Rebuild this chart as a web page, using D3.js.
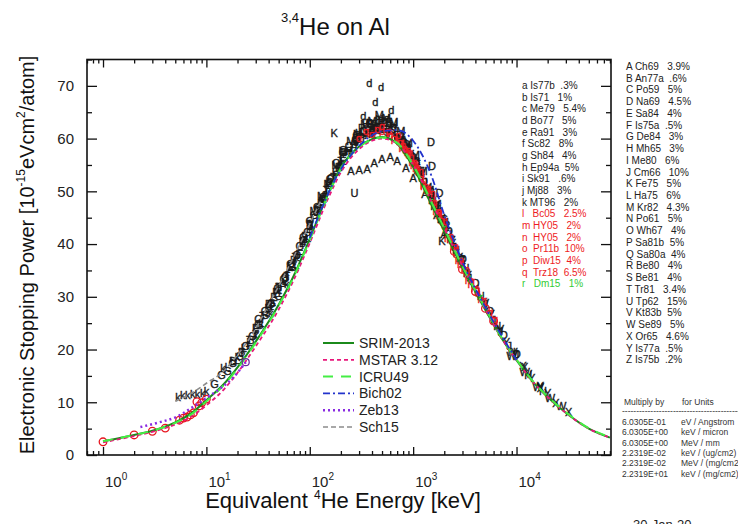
<!DOCTYPE html>
<html><head><meta charset="utf-8">
<script src="https://cdn.jsdelivr.net/npm/d3@7"></script>
<style>
body{margin:0;background:#fff;}
svg{font-family:Arial,"Liberation Sans",sans-serif;}
.pre{white-space:pre;}
</style></head><body>
<svg id="chart" width="738" height="524"></svg>
<script>
// ---------------- data ----------------
const xTickValues = [1, 10, 100, 1000, 10000];
const xTickExponents = ["0", "1", "2", "3", "4"];
const yTickValues = [0, 10, 20, 30, 40, 50, 60, 70];

// curves [E keV, S]
const srim2013 = [[1,2.6],[2,3.8],[3,4.6],[5,6.2],[7,7.8],[10,10.4],[15,13.6],[20,16.6],[30,21.5],[50,28.5],[70,34],[100,41],[150,49.5],[200,54.5],[300,58.5],[400,59.9],[500,60.3],[700,59],[1000,54.6],[1500,47.5],[2000,42.5],[3000,35.5],[5000,27.5],[7000,22.5],[10000,18],[15000,13.5],[20000,11],[30000,8],[50000,5],[80000,3.3]];
const mstar312 = [[1,2.4],[2,3.6],[3,4.4],[5,5.8],[7,7.2],[10,9.4],[15,12.6],[20,15.6],[30,20.6],[50,27.6],[70,33.2],[100,40.2],[150,48.6],[200,53.6],[300,58],[400,59.6],[500,60],[700,59],[1000,55],[1500,48],[2000,43],[3000,35.8],[5000,27.6],[7000,22.5],[10000,18],[15000,13.5],[20000,11],[30000,8],[50000,5],[80000,3.3]];
const icru49 = [[1,2.6],[2,3.8],[3,4.6],[5,6.1],[7,7.6],[10,10.2],[15,13.4],[20,16.4],[30,21.3],[50,28.3],[70,33.8],[100,40.8],[150,49.2],[200,54.3],[300,58.4],[400,59.8],[500,60.2],[700,59.2],[1000,55],[1500,48],[2000,43],[3000,35.8],[5000,27.8],[7000,22.6],[10000,18.1],[15000,13.6],[20000,11.1],[30000,8.1],[50000,5.1],[80000,3.4]];
const bich02 = [[100,41.2],[200,54.2],[300,58.6],[500,61.4],[700,61.6],[1000,59.6],[1500,53],[2000,45.5],[3000,36.6],[5000,28],[10000,18]];
const zeb13 = [[2.3,5.3],[3.5,6.2],[5.1,7.2],[7,8.8],[10,10.8],[14,12.8],[18,14.6],[24,17.6]];
const sch15 = [[5,10.2],[7,11.6],[10,13.6],[14.5,15.8],[20,19],[28,23],[40,28.5],[60,35],[90,42],[130,48.5]];
const zebPoint = [[24,17.6]];

// experimental data, black letters
const dataA = [[250,53.8],[300,54.0],[360,54.3],[420,55.4],[500,56.2],[600,56.5],[700,55.8],[850,54.5],[1000,52.5],[1300,49.5],[1700,45.5],[2000,42.0]];
const dataB = [[18,17.8],[22,19.6],[27,21.9],[33,24.6],[40,27.8],[48,30.8],[58,33.5],[70,36.9],[85,40.2],[100,43.6]];
const dataC = [[120,46.9],[160,52.6],[210,56.4],[280,59.8],[370,61.6],[480,62.2],[620,61.7],[800,59.4],[1050,55.6],[1400,50.3],[1900,44.4]];
const dataD = [[1490,59.4],[1520,54.8],[1800,49.7],[1850,44.8]];
const dataE = [[30,24.1],[45,29.9],[65,35.8],[90,41.6],[130,48.2],[190,54.6],[270,58.9],[380,61.1],[520,61.9],[700,60.7]];
const dataF = [[80,38.1],[110,44.9],[150,50.6],[210,55.1],[300,59.6],[420,62.8],[580,63.1],[780,59.8],[1100,55.1],[1500,48.4],[2100,42.0],[2600,38.3]];
const dataG = [[12,13.4],[14,15.2],[16,15.9],[18,17.4],[21,18.7],[24,20.6],[28,22.6],[32,24.8],[37,26.6],[43,28.9],[50,30.1],[58,33.8],[68,35.7],[80,39.6],[95,42.3],[110,45.5],[130,47.9],[155,51.6],[180,53.9]];
const dataH = [[300,61.1],[350,62.9],[400,60.9],[470,63.8],[550,62.0],[650,62.8],[750,60.3],[870,58.8],[1000,56.4],[1200,53.4],[1400,50.6],[1650,47.5],[1900,44.9],[2200,41.9],[2600,38.8],[2900,36.9],[3300,34.5]];
const dataI = [[55,33.3],[75,38.2],[105,43.0],[145,49.8],[200,55.6],[280,58.4],[390,61.5],[560,60.8]];
const dataJ = [[380,62.1],[450,63.6],[550,63.0],[650,61.9],[780,60.4],[900,58.2],[1100,55.3],[1300,51.8],[1550,49.3],[1800,46.1],[2100,43.1],[2500,39.4],[3000,36.3],[3500,33.5],[4200,30.9],[5000,28.6],[6000,25.6],[7000,23.4],[8500,20.6],[10000,18.9]];
const dataK = [[172,61.1],[1900,40.6]];
const dataL = [[16,16.7],[18,17.9],[20,18.1],[23,20.3],[26,21.5],[30,23.8],[34,25.1],[39,27.9],[44,29.0],[50,31.9],[57,33.0],[65,35.9],[74,36.1],[85,40.6],[96,41.1]];
const dataM = [[110,46.2],[130,49.2],[150,51.3],[180,55.0],[210,57.6],[250,59.5],[290,60.9],[340,62.8],[400,63.4],[470,64.4],[550,63.9],[650,63.1],[760,61.4],[900,59.2],[1050,56.8],[1250,53.8],[1450,50.3],[1700,47.6],[2000,44.2]];
const dataN = [[1100,54.1],[1600,47.3],[2300,40.9],[3200,35.4],[4500,30.1],[6500,24.5],[9000,19.6],[13000,15.1],[18000,12.2]];
const dataO = [[2200,42.4],[3000,37.1],[4000,32.6],[5500,27.4],[7500,22.8],[10000,19.1]];
const dataP = [[40,28.6],[47,30.9],[55,32.1],[64,35.0],[75,37.4],[87,40.6],[100,42.9],[117,46.4],[135,48.6],[157,51.7],[180,53.1],[210,56.8],[240,57.7],[280,60.1],[320,60.3],[375,62.9],[430,61.9],[500,63.4],[580,62.3],[700,60.1]];
const dataQ = [[32,25.8],[37,27.4],[42,28.6],[49,31.6],[56,33.4],[65,36.3],[75,37.9],[87,41.3],[100,44.3],[118,47.1],[135,49.0],[157,52.4],[180,55.3],[210,57.4],[240,58.6],[285,60.7],[330,61.4],[390,62.7],[450,62.0]];
const dataR = [[320,62.1],[450,61.7],[620,61.0],[850,58.9],[1150,53.6],[1550,48.3],[2100,43.6],[2800,37.4]];
const dataS = [[210,57.9],[290,59.9],[400,61.3],[560,61.2],[780,59.1],[1080,55.7],[1500,49.8],[2000,44.7]];
const dataT = [[22,19.4],[26,21.8],[30,22.9],[35,26.3],[42,28.2],[50,31.8],[60,33.9],[72,37.6],[85,40.3],[100,43.9],[120,46.2],[145,50.2],[170,52.8],[200,55.8],[240,57.1],[280,59.6],[330,60.0]];
const dataU = [[270,49.7]];
const dataV = [[5000,28.9],[7000,23.9],[9500,19.2],[13000,15.4],[17000,12.9]];
const dataW = [[9000,18.7],[12000,15.7],[16000,12.9],[21000,10.8],[27000,9.2]];
const dataX = [[12000,16.6],[17000,12.8],[24000,9.8],[32000,8.2]];
const dataY = [[1200,53.3],[1400,50.8],[1700,46.6],[2000,43.4],[2400,40.2],[2800,37.5],[3400,34.2],[4000,31.5],[4800,29.0],[5700,26.7],[6800,23.6],[8000,21.5],[9500,19.5],[11500,16.9],[14000,14.6],[17000,13.0],[20000,11.7]];
const dataZ = [[420,61.6],[600,61.6],[850,58.1],[1200,53.9],[1700,47.2],[2400,40.8],[3000,36.9]];
const data_a = [[400,62.4],[700,60.4],[1000,56.9],[1500,49.3],[2000,43.9]];
const data_b = [[900,57.6],[1300,52.2],[1800,45.3],[2500,39.6]];
const data_c = [[60,34.6],[90,40.9],[130,48.7],[190,54.8],[270,60.2],[380,63.3],[520,63.6]];
const data_d = [[376,70.6],[490,69.8],[430,67.0],[615,65.5],[330,64.2],[560,63.9]];
const data_e = [[100,44.1],[140,49.6],[200,55.2],[280,59.3]];
const data_f = [[25,20.9],[35,25.8],[50,31.4],[70,36.6],[100,42.4]];
const data_g = [[500,63.4],[800,59.9],[1200,52.9],[1800,45.8]];
const data_h = [[300,60.6],[450,62.6],[650,62.4],[900,58.6]];
const data_i = [[600,62.8],[1000,57.0],[1600,47.8]];
const data_j = [[250,58.2],[350,61.1],[500,62.2]];
const data_k = [[5.3,11.0],[5.9,11.3],[6.6,11.3],[7.4,11.5],[8.2,11.6],[9.2,11.8],[10,12.1],[14.5,16.5],[20,18.6],[30,22.8],[42,27],[60,32.5]];
// red data
const data_l = [[700,59.5],[800,58.9],[900,57.1],[1000,56.2],[1100,54.3],[1250,52.8],[1400,49.9],[1600,48.1],[1800,45.4],[2000,44.3],[2300,40.7],[2600,39.1],[2900,36.3]];
const data_m = [[800,58.2],[900,57.4],[1000,55.6],[1150,53.8],[1300,51.1],[1500,49.6],[1700,46.3],[1950,44.6],[2200,41.2],[2500,39.7],[2800,37.0],[3200,35.2],[3500,33.1],[4000,31.6]];
const data_n = [[850,57.9],[1050,54.5],[1350,50.2],[1750,45.5],[2250,41.0],[2850,36.2],[3600,32.5],[4500,29.6]];
const data_o = [[1,2.5],[2,3.8],[3,4.5],[4,5.1],[5.5,6.6],[6,7.0],[6.5,7.2],[7,7.6],[7.5,8.0],[8.1,10.1],[8.5,9.3],[9,9.9],[10,10.6],[2500,38.6],[3000,35.2],[4000,31.0],[5000,27.8],[6000,25.4]];
const data_p = [[450,61.8],[500,61.4],[580,61.5],[650,60.2],[720,60.6],[800,58.7],[900,57.8],[1000,55.4],[1100,54.6],[1250,51.6]];
const data_q = [[300,60.2],[350,61.5],[400,60.8],[500,62.3],[600,60.6],[750,59.4],[900,56.9],[1050,55.1],[1200,52.6],[1400,50.7],[1600,48.0],[1800,46.0],[2000,43.5],[2300,41.5],[2600,38.2],[2900,36.8],[3300,34.3],[3700,33.0],[4200,30.8],[4800,29.3],[5500,27.1],[6200,25.7]];
// green data
const data_r = [[1500,48.1],[2000,43.0],[2700,37.7],[3500,33.6],[4500,30.0]];

const innerLegend = ["a Is77b  .3%","b Is71   1%","c Me79   5.4%","d Bo77   5%","e Ra91   3%","f Sc82   8%","g Sh84   4%","h Ep94a  5%","i Sk91   .6%","j Mj88   3%","k MT96   2%","l   Bc05   2.5%","m HY05   2%","n  HY05   2%","o  Pr11b  10%","p  Diw15  4%","q  Trz18  6.5%","r   Dm15   1%"];
const rightLegend = ["A Ch69   3.9%","B An77a  .6%","C Po59   5%","D Na69   4.5%","E Sa84   4%","F Is75a  .5%","G De84   3%","H Mh65   3%","I Me80   6%","J Cm66   10%","K Fe75   5%","L Ha75   6%","M Kr82   4.3%","N Po61   5%","O Wh67   4%","P Sa81b  5%","Q Sa80a  4%","R Be80   4%","S Be81   4%","T Tr81   3.4%","U Tp62   15%","V Kt83b  5%","W Se89   5%","X Or65   4.6%","Y Is77a  .5%","Z Is75b  .2%"];
const unitFactors = ["6.0305E-01","6.0305E+00","6.0305E+00","2.2319E-02","2.2319E-02","2.2319E+01"];
const unitNames = ["eV / Angstrom","keV / micron","MeV / mm","keV / (ug/cm2)","MeV / (mg/cm2)","keV / (mg/cm2)"];
const curveNames = ["SRIM-2013","MSTAR 3.12","ICRU49","Bich02","Zeb13","Sch15"];

// ---------------- drawing ----------------
const svg = d3.select("#chart");
const L = 87, R = 611, T = 59.5, B = 455;
const x = d3.scaleLog().domain([0.7, 82000]).range([L, R]);
const y = d3.scaleLinear().domain([0, 75]).range([B, T]);

const blackSets = [
 ["A",dataA],["B",dataB],["C",dataC],["D",dataD],["E",dataE],["F",dataF],["G",dataG],["H",dataH],["I",dataI],["J",dataJ],["K",dataK],["L",dataL],["M",dataM],["N",dataN],["O",dataO],["P",dataP],["Q",dataQ],["R",dataR],["S",dataS],["T",dataT],["U",dataU],["V",dataV],["W",dataW],["X",dataX],["Y",dataY],["Z",dataZ],
 ["a",data_a],["b",data_b],["c",data_c],["d",data_d],["e",data_e],["f",data_f],["g",data_g],["h",data_h],["i",data_i],["j",data_j],["k",data_k]];
const redSets = [["l",data_l],["m",data_m],["n",data_n],["p",data_p],["q",data_q]];

function letters(g, pts, ch, color) {
  g.selectAll(null).data(pts).enter().append("text")
    .attr("x", d => x(d[0])).attr("y", d => y(d[1]))
    .attr("text-anchor","middle").attr("dominant-baseline","central")
    .attr("font-size", 11).attr("fill", color)
    .attr("stroke", color).attr("stroke-width", 0.35).text(ch);
}
const gData = svg.append("g");
blackSets.forEach(([ch, pts]) => letters(gData, pts, ch, "#1a1a1a"));
redSets.forEach(([ch, pts]) => letters(gData, pts, ch, "#ee1c25"));
gData.selectAll(null).data(data_o).enter().append("circle")
  .attr("cx", d => x(d[0])).attr("cy", d => y(d[1])).attr("r", 3.8)
  .attr("fill","none").attr("stroke","#e8141e").attr("stroke-width",1.3);
letters(gData, data_r, "r", "#22cc22");

// curves
const line = d3.line().x(d => x(d[0])).y(d => y(d[1])).curve(d3.curveMonotoneX);
const curveStyles = [
  {data: srim2013, color:"#1b8a1b", dash:null, w:2},
  {data: mstar312, color:"#e8177b", dash:"4,3", w:1.8},
  {data: icru49, color:"#44ee44", dash:"10,8", w:2},
  {data: bich02, color:"#2233cc", dash:"7,3,2,3", w:1.8},
  {data: zeb13, color:"#8a2be2", dash:"2,3", w:2.5},
  {data: sch15, color:"#8c8c8c", dash:"5,3", w:1.6}
];
const gCurves = svg.append("g");
curveStyles.forEach(c => {
  gCurves.append("path").datum(c.data).attr("d", line)
    .attr("fill","none").attr("stroke", c.color).attr("stroke-width", c.w)
    .attr("stroke-dasharray", c.dash);
});
gCurves.selectAll(null).data(zebPoint).enter().append("circle")
  .attr("cx", d => x(d[0])).attr("cy", d => y(d[1])).attr("r", 3.5)
  .attr("fill","none").attr("stroke","#6a2a9a").attr("stroke-width",1.2);

// frame & ticks
svg.append("rect").attr("x",L).attr("y",T).attr("width",R-L).attr("height",B-T)
  .attr("fill","none").attr("stroke","#111").attr("stroke-width",1.6);

const minorX = [];
for (let p = -1; p <= 4; p++) for (let m = 2; m <= 9; m++) {
  const v = m * Math.pow(10, p);
  if (v >= 0.7 && v <= 82000) minorX.push(v);
}
function xAxis(g, orient, vals, size) {
  const ax = (orient === "bottom" ? d3.axisBottom(x) : d3.axisTop(x))
    .tickValues(vals).tickSize(-size).tickFormat("");
  g.call(ax); g.select(".domain").remove();
  g.selectAll("line").attr("stroke","#111").attr("stroke-width",1.3);
}
xAxis(svg.append("g").attr("transform",`translate(0,${B})`), "bottom", xTickValues, 8);
xAxis(svg.append("g").attr("transform",`translate(0,${B})`), "bottom", minorX, 4);
xAxis(svg.append("g").attr("transform",`translate(0,${T})`), "top", xTickValues, 8);
xAxis(svg.append("g").attr("transform",`translate(0,${T})`), "top", minorX, 4);

const minorY = [5,15,25,35,45,55,65,75];
function yAxis(g, orient, vals, size) {
  const ax = (orient === "left" ? d3.axisLeft(y) : d3.axisRight(y))
    .tickValues(vals).tickSize(-size).tickFormat("");
  g.call(ax); g.select(".domain").remove();
  g.selectAll("line").attr("stroke","#111").attr("stroke-width",1.3);
}
yAxis(svg.append("g").attr("transform",`translate(${L},0)`), "left", yTickValues, 10);
yAxis(svg.append("g").attr("transform",`translate(${L},0)`), "left", minorY, 5);
yAxis(svg.append("g").attr("transform",`translate(${R},0)`), "right", yTickValues, 10);
yAxis(svg.append("g").attr("transform",`translate(${R},0)`), "right", minorY, 5);

// tick labels
svg.append("g").selectAll("text").data(yTickValues).enter().append("text")
  .attr("x", 74).attr("y", d => y(d)).attr("dy","0.36em")
  .attr("text-anchor","end").attr("font-size",15).attr("fill","#222").text(d => d);
xTickValues.forEach((v, i) => {
  const t = svg.append("text").attr("x", x(v) + 2).attr("y", 487)
    .attr("font-size",15).attr("fill","#222");
  t.append("tspan").text("10");
  t.append("tspan").attr("dy",-7).attr("font-size",10).text(xTickExponents[i]);
});

// axis titles
const xt = svg.append("text").attr("x",343).attr("y",508).attr("text-anchor","middle")
  .attr("font-size",22).attr("fill","#111");
xt.append("tspan").text("Equivalent ");
xt.append("tspan").attr("dy",-9).attr("font-size",12).text("4");
xt.append("tspan").attr("dy",9).text("He Energy [keV]");

const yt = svg.append("text").attr("transform","translate(34,255) rotate(-90)")
  .attr("text-anchor","middle").attr("font-size",20).attr("fill","#111");
yt.append("tspan").text("Electronic Stopping Power [10");
yt.append("tspan").attr("dy",-9).attr("font-size",12).text("-15");
yt.append("tspan").attr("dy",9).text("eVcm");
yt.append("tspan").attr("dy",-9).attr("font-size",12).text("2");
yt.append("tspan").attr("dy",9).text("/atom]");

// title
const tt = svg.append("text").attr("x",281).attr("y",35).attr("font-size",24).attr("fill","#111");
tt.append("tspan").attr("dy",-13).attr("font-size",13).text("3,4");
tt.append("tspan").attr("dy",13).text("He on Al");

// curve legend
const lg = svg.append("g");
curveStyles.forEach((c, i) => {
  const yy = 343 + i * 16.8;
  lg.append("line").attr("x1",323).attr("x2",354).attr("y1",yy).attr("y2",yy)
    .attr("stroke",c.color).attr("stroke-width",c.w).attr("stroke-dasharray",c.dash);
  lg.append("text").attr("x",359).attr("y",yy).attr("dy","0.36em")
    .attr("font-size",14).attr("fill","#222").text(curveNames[i]);
});

// inner legend (a..r)
svg.append("g").selectAll("text").data(innerLegend).enter().append("text")
  .attr("class","pre").attr("x",522).attr("y",(d,i) => 89 + i*11.67)
  .attr("font-size",10)
  .attr("fill",(d,i) => i < 11 ? "#222" : (i < 17 ? "#ee1c25" : "#33cc33"))
  .text(d => d);

// right legend (A..Z)
svg.append("g").selectAll("text").data(rightLegend).enter().append("text")
  .attr("class","pre").attr("x",626).attr("y",(d,i) => 70 + i*11.73)
  .attr("font-size",10).attr("fill","#222").text(d => d);

// unit table
const ug = svg.append("g").attr("font-size",8.5).attr("fill","#333");
ug.append("text").attr("x",624).attr("y",405).text("Multiply by");
ug.append("text").attr("x",682).attr("y",405).text("for Units");
ug.append("text").attr("x",622).attr("y",414).text("---------------------");
ug.append("text").attr("x",681).attr("y",414).text("---------------------");
unitFactors.forEach((f, i) => {
  ug.append("text").attr("x",622).attr("y",425 + i*10.3).text(f);
  ug.append("text").attr("x",681).attr("y",425 + i*10.3).text(unitNames[i]);
});

// date (cut off at bottom)
svg.append("text").attr("x",633).attr("y",529).attr("font-size",13).attr("fill","#222").text("30-Jan-20");
</script>
</body></html>
